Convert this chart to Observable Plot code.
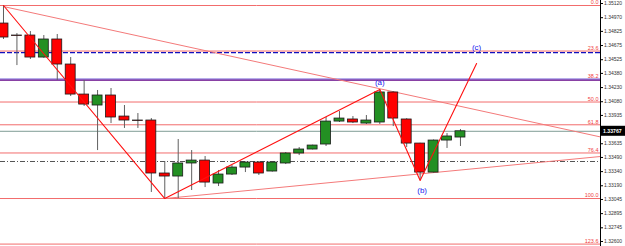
<!DOCTYPE html>
<html><head><meta charset="utf-8">
<script src="https://cdn.jsdelivr.net/npm/d3@7"></script>
<script src="https://cdn.jsdelivr.net/npm/@observablehq/plot@0.6"></script>
<style>body{margin:0;background:#fff}svg{display:block}</style>
</head><body><div id="chart"></div>
<script>
const opens  = [1.34908,1.34781,1.34781,1.34548,1.34739,1.34474,1.34156,1.34040,1.34146,1.33923,1.33881,1.33881,1.33320,1.33288,1.33426,1.33457,1.33214,1.33309,1.33383,1.33436,1.33341,1.33426,1.33532,1.33574,1.33627,1.33870,1.33892,1.33849,1.33860,1.34178,1.33892,1.33637,1.33330,1.33669,1.33701];
const highs  = [1.35099,1.34802,1.34823,1.34781,1.34792,1.34548,1.34305,1.34199,1.34220,1.34040,1.33955,1.33902,1.33447,1.33680,1.33563,1.33500,1.33352,1.33404,1.33440,1.33447,1.33440,1.33542,1.33595,1.33620,1.33913,1.33976,1.33923,1.33934,1.34209,1.34185,1.33900,1.33640,1.33675,1.33743,1.33786];
const lows   = [1.34739,1.34463,1.34527,1.34540,1.34305,1.34135,1.34030,1.33563,1.33849,1.33797,1.33797,1.33119,1.33055,1.33055,1.33140,1.33171,1.33182,1.33299,1.33330,1.33299,1.33335,1.33415,1.33510,1.33570,1.33606,1.33860,1.33849,1.33839,1.33839,1.33817,1.33595,1.33246,1.33325,1.33585,1.33606];
const closes = [1.34760,1.34776,1.34548,1.34739,1.34474,1.34156,1.34050,1.34146,1.33913,1.33881,1.33876,1.33320,1.33288,1.33426,1.33457,1.33224,1.33309,1.33383,1.33436,1.33320,1.33436,1.33532,1.33574,1.33616,1.33870,1.33902,1.33860,1.33881,1.34178,1.33902,1.33637,1.33330,1.33669,1.33712,1.33767];

const tickLabels = ["1.35120","1.34970","1.34825","1.34675","1.34525","1.34380","1.34230","1.34080","1.33935","1.33635","1.33490","1.33340","1.33190","1.33045","1.32895","1.32745","1.32600"];

const fibHigh = 1.35099, fibLow = 1.33055;
const fibLevels = [0, 23.6, 38.2, 50, 61.8, 76.4, 100, 123.6];
const fibText = ["0.0","23.6","38.2","50.0","61.8","76.4","100.0","123.6"];

const waveX = [0, 12, 28, 31, 35.2];
const waveY = [1.35099, 1.33055, 1.34209, 1.33246, 1.34485];
const waveNames = ["(a)", "(b)", "(c)"];

const upperTrend = [{x:0,y:1.35088},{x:44.42,y:1.33707}];
const lowerTrend = [{x:12,y:1.33055},{x:44.42,y:1.33500}];

const blueLevel = 1.34601, purpleLevel = 1.34315, dashDotLevel = 1.33447, currentPrice = 1.33767;

const candles = opens.map((o,i)=>({i, o, h:highs[i], l:lows[i], c:closes[i], up: closes[i] >= o}));
const fibs = fibLevels.map((L,k)=>({p: fibHigh - (fibHigh-fibLow)*L/100, t: fibText[k]}));
const xMin = -0.223, xMax = 44.42;
const font = "Liberation Sans, Arial, sans-serif";
const lbl = k => [{x: waveX[k+2], y: waveY[k+2], t: waveNames[k]}];

const plot = Plot.plot({
  width: 625, height: 246,
  marginLeft: 0, marginRight: 25, marginTop: 0, marginBottom: 0,
  style: {fontFamily: font, background: "#fff"},
  x: {domain: [xMin, xMax], axis: null},
  y: {domain: [1.32547, 1.35152], axis: null},
  marks: [
    Plot.ruleY(fibs, {y: "p", stroke: "#f26c6c", strokeWidth: 1}),
    Plot.text(fibs, {x: xMax, y: "p", text: "t", textAnchor: "end", dx: -2, dy: -3, fill: "#f04040", fontSize: 5.5}),
    Plot.ruleY([blueLevel], {stroke: "#1010c0", strokeWidth: 1.2, strokeDasharray: "5,2"}),
    Plot.ruleY([purpleLevel], {stroke: "#a0a0f0", strokeWidth: 2.5}),
    Plot.ruleY([purpleLevel], {stroke: "#7a1a8a", strokeWidth: 1.2, dy: 0.5}),
    Plot.ruleY([currentPrice], {stroke: "#7f9c94", strokeWidth: 1}),
    Plot.ruleY([dashDotLevel], {stroke: "#555", strokeWidth: 1, strokeDasharray: "5,2,1,2"}),
    Plot.line(upperTrend, {x: "x", y: "y", stroke: "#f47a7a", strokeWidth: 1}),
    Plot.line(lowerTrend, {x: "x", y: "y", stroke: "#f47a7a", strokeWidth: 1}),
    Plot.ruleX(candles, {x: "i", y1: "l", y2: "h", stroke: "#606060", strokeWidth: 1}),
    Plot.rect(candles, {x1: d => d.i - 0.37, x2: d => d.i + 0.37, y1: "o", y2: "c",
      fill: d => d.up ? "#239023" : "#ff0000", stroke: "#1a1a1a", strokeWidth: 0.8}),
    Plot.line(waveX.map((x,k)=>({x, y: waveY[k]})), {x: "x", y: "y", stroke: "#ff1010", strokeWidth: 1.1}),
    Plot.text(lbl(0), {x: "x", y: "y", text: "t", dy: -7, fill: "#2020ee", fontSize: 8}),
    Plot.text(lbl(1), {x: "x", y: "y", text: "t", dy: 10, dx: 2, fill: "#2020ee", fontSize: 8}),
    Plot.text(lbl(2), {x: "x", y: "y", text: "t", dy: -16, fill: "#2020ee", fontSize: 8}),
    Plot.ruleX([xMax], {stroke: "#000", strokeWidth: 1}),
    Plot.axisY(tickLabels.map(Number), {anchor: "right", tickSize: 2, tickPadding: 1.5,
      tickFormat: d => d.toFixed(5), fontSize: 5, fill: "#333"})
  ]
});
document.getElementById("chart").appendChild(plot);

const ys = plot.scale("y"), xs = plot.scale("x");
const svg = d3.select(plot);
const yc = ys.apply(currentPrice), xr = xs.apply(xMax);
const g = svg.append("g");
g.append("rect").attr("x", xr + 1).attr("y", yc - 5).attr("width", 24).attr("height", 10).attr("fill", "#000");
g.append("text").attr("x", xr + 3).attr("y", yc + 2).attr("fill", "#fff").attr("font-size", 5.2)
  .attr("text-anchor", "start").attr("font-family", font).attr("font-weight", "bold").text(currentPrice.toFixed(5));
</script>
</body></html>
